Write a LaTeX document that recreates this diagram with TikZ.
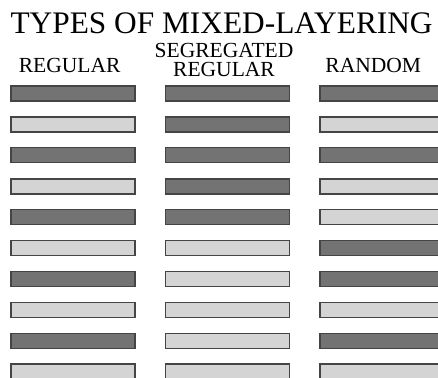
\documentclass[tikz,border=0pt]{standalone}
\usepackage{fontspec}
\setmainfont{Liberation Serif}
\definecolor{bardark}{gray}{0.45}
\definecolor{barlight}{gray}{0.83}
\definecolor{barline}{gray}{0.27}
\begin{document}
\begin{tikzpicture}[
  bar/.style={draw=barline, line width=0.95pt, minimum width=3.1cm, minimum height=0.375cm, inner sep=0pt},
  darkbar/.style={bar, fill=bardark},
  lightbar/.style={bar, fill=barlight},
  head/.style={font=\fontsize{15.3}{14.2}\selectfont, inner sep=0pt, align=center}
]
\useasboundingbox (0,0) rectangle (10.95,-9.45);

\node[font=\fontsize{22.3}{24}\selectfont, inner sep=0pt, anchor=base] (title) at (5.54,-0.83) {TYPES OF MIXED-LAYERING};
\node[head, anchor=base] (hreg) at (1.74,-1.825) {REGULAR};
\node[head] (hseg) at (5.6,-1.5) {SEGREGATED\\REGULAR};
\node[head, anchor=base] (hran) at (9.33,-1.825) {RANDOM};

\node[darkbar] (r1) at (1.825,-2.34) {};
\node[lightbar] (r2) at (1.825,-3.11) {};
\node[darkbar] (r3) at (1.825,-3.88) {};
\node[lightbar] (r4) at (1.825,-4.66) {};
\node[darkbar] (r5) at (1.825,-5.43) {};
\node[lightbar] (r6) at (1.825,-6.20) {};
\node[darkbar] (r7) at (1.825,-6.97) {};
\node[lightbar] (r8) at (1.825,-7.75) {};
\node[darkbar] (r9) at (1.825,-8.52) {};
\node[lightbar] (r10) at (1.825,-9.29) {};

\node[darkbar] (s1) at (5.69,-2.34) {};
\node[darkbar] (s2) at (5.69,-3.11) {};
\node[darkbar] (s3) at (5.69,-3.88) {};
\node[darkbar] (s4) at (5.69,-4.66) {};
\node[darkbar] (s5) at (5.69,-5.43) {};
\node[lightbar] (s6) at (5.69,-6.20) {};
\node[lightbar] (s7) at (5.69,-6.97) {};
\node[lightbar] (s8) at (5.69,-7.75) {};
\node[lightbar] (s9) at (5.69,-8.52) {};
\node[lightbar] (s10) at (5.69,-9.29) {};

\node[darkbar] (n1) at (9.55,-2.34) {};
\node[lightbar] (n2) at (9.55,-3.11) {};
\node[darkbar] (n3) at (9.55,-3.88) {};
\node[lightbar] (n4) at (9.55,-4.66) {};
\node[lightbar] (n5) at (9.55,-5.43) {};
\node[darkbar] (n6) at (9.55,-6.20) {};
\node[darkbar] (n7) at (9.55,-6.97) {};
\node[lightbar] (n8) at (9.55,-7.75) {};
\node[darkbar] (n9) at (9.55,-8.52) {};
\node[lightbar] (n10) at (9.55,-9.29) {};
\end{tikzpicture}
\end{document}
